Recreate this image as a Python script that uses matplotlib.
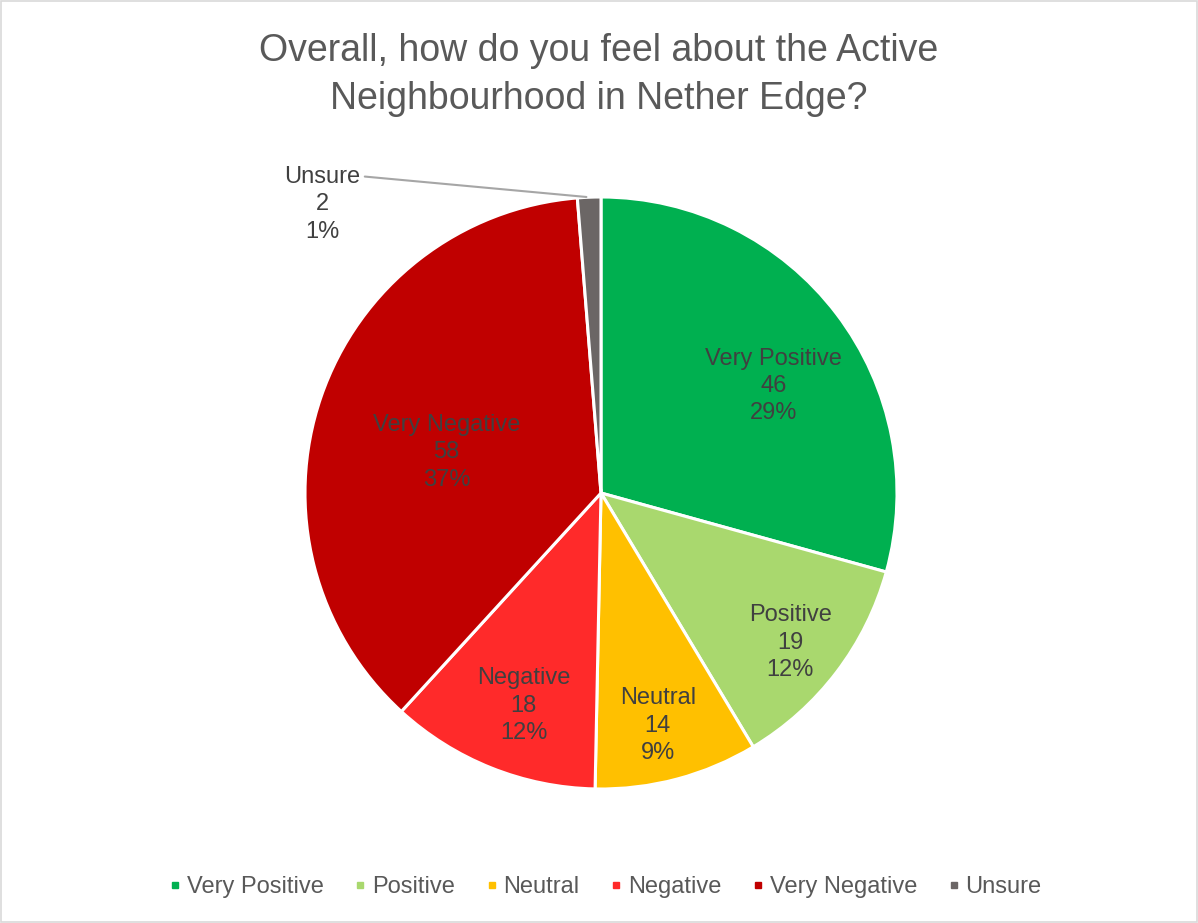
import numpy as np
import matplotlib.pyplot as plt
from matplotlib.lines import Line2D
from matplotlib.patches import Rectangle

plt.rcParams['font.family'] = ['Liberation Sans', 'DejaVu Sans']

# --- Data
categories = ["Very Positive", "Positive", "Neutral", "Negative", "Very Negative", "Unsure"]
counts = [46, 19, 14, 18, 58, 2]
pct_labels = ["29%", "12%", "9%", "12%", "37%", "1%"]   # as shown on the chart
colors = ["#00B050", "#A9D86E", "#FFC000", "#FF2A2A", "#C00000", "#6B6665"]
title = "Overall, how do you feel about the Active\nNeighbourhood in Nether Edge?"

# label placement (Excel "best fit"): fraction of radius, angle shift in degrees
label_dist = [0.685, 0.815, 0.81, 0.765, 0.54, None]
label_shift = [-5.4, -1.1, -1.2, 1.8, 4.2, 0]

W, H = 1198, 923
fig = plt.figure(figsize=(W / 100, H / 100), dpi=100)
ax = fig.add_axes([0, 0, 1, 1])

cx, cy, R = 601, H - 493, 296
wedges, _ = ax.pie(counts, colors=colors, startangle=90, counterclock=False,
                   center=(cx, cy), radius=R, frame=True,
                   wedgeprops=dict(edgecolor='white', linewidth=2.2))
ax.set_xlim(0, W)
ax.set_ylim(0, H)
ax.axis('off')

text_col = "#404040"
for w, cat, n, p, d, s in zip(wedges, categories, counts, pct_labels, label_dist, label_shift):
    mid = np.deg2rad((w.theta1 + w.theta2) / 2 + s)
    lab = f"{cat}\n{n}\n{p}"
    if d is not None:
        ax.text(cx + d * R * np.cos(mid), cy + d * R * np.sin(mid), lab,
                ha='center', va='center', fontsize=17, color=text_col,
                linespacing=1.32)
    else:
        ex, ey = cx + R * np.cos(mid), cy + R * np.sin(mid)
        ax.annotate(lab, xy=(ex, ey), xytext=(ex - 267, ey - 7),
                    ha='center', va='center', fontsize=17, color=text_col,
                    linespacing=1.32,
                    arrowprops=dict(arrowstyle='-', color='#A6A6A6', lw=1.5,
                                    relpos=(1.06, 0.86), shrinkA=0, shrinkB=2))

fig.text(0.5, 1 - 75 / H, title, ha='center', va='center', fontsize=27,
         color="#595959", linespacing=1.43)

handles = [Line2D([], [], marker='s', linestyle='none', markersize=5,
                  markerfacecolor=c, markeredgecolor=c) for c in colors]
fig.legend(handles, categories, loc='center', bbox_to_anchor=(606 / W, 1 - 887 / H),
           ncol=6, frameon=False, fontsize=17, handlelength=0.4,
           handletextpad=0.3, columnspacing=1.35, labelcolor="#595959")

fig.patches.append(Rectangle((0.001, 0.001), 0.998, 0.998, transform=fig.transFigure,
                             fill=False, edgecolor='#D9D9D9', linewidth=1.2))

fig.savefig("out.png", dpi=100)
